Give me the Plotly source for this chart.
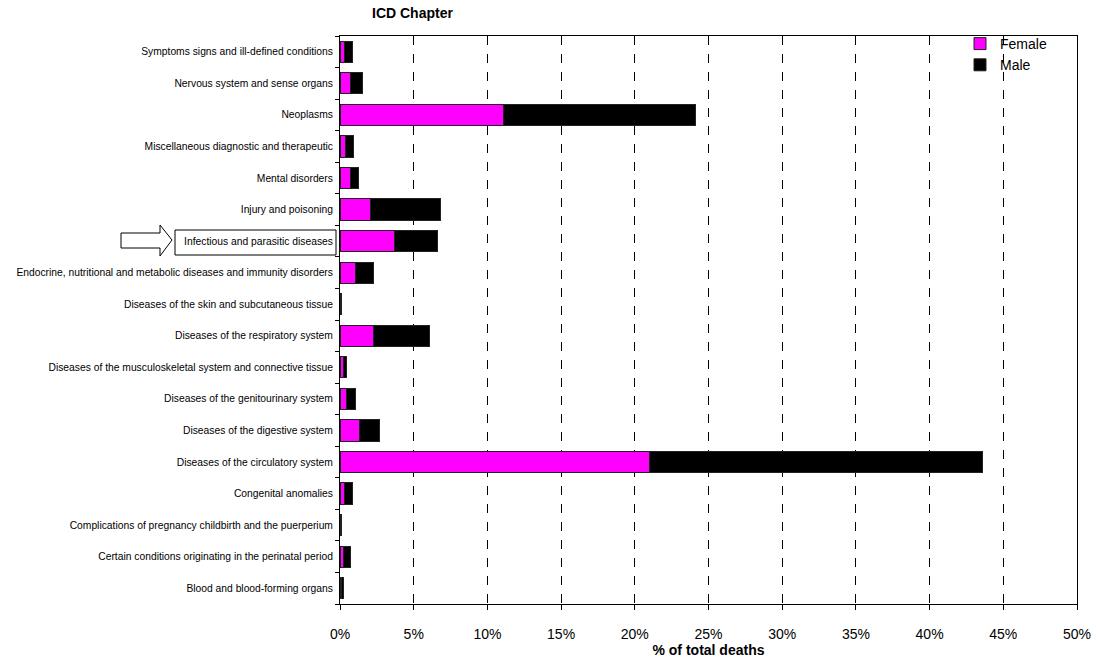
import plotly.graph_objects as go

# Categories listed bottom to top
categories = [
    "Blood and blood-forming organs",
    "Certain conditions originating in the perinatal period",
    "Complications of pregnancy childbirth and the puerperium",
    "Congenital anomalies",
    "Diseases of the circulatory system",
    "Diseases of the digestive system",
    "Diseases of the genitourinary system",
    "Diseases of the musculoskeletal system and connective tissue",
    "Diseases of the respiratory system",
    "Diseases of the skin and subcutaneous tissue",
    "Endocrine, nutritional and metabolic diseases and immunity disorders",
    "Infectious and parasitic diseases",
    "Injury and poisoning",
    "Mental disorders",
    "Miscellaneous diagnostic and therapeutic",
    "Neoplasms",
    "Nervous system and sense organs",
    "Symptoms signs and ill-defined conditions",
]
female = [0.07, 0.22, 0.04, 0.31, 21.03, 1.33, 0.43, 0.27, 2.30, 0.05,
          1.08, 3.71, 2.08, 0.70, 0.40, 11.06, 0.70, 0.31]
male = [0.20, 0.46, 0.03, 0.52, 22.57, 1.36, 0.63, 0.20, 3.80, 0.04,
        1.18, 2.89, 4.77, 0.54, 0.52, 13.07, 0.81, 0.52]
x_ticks = [0, 5, 10, 15, 20, 25, 30, 35, 40, 45, 50]
x_tick_labels = ["0%", "5%", "10%", "15%", "20%", "25%", "30%", "35%", "40%", "45%", "50%"]

W, H = 1096, 664
L, R, T, B = 340, 19, 36, 60
PW, PH = W - L - R, H - T - B


def px(x):
    return (x - L) / PW


def py(y):
    return (H - B - y) / PH


fig = go.Figure()
fig.add_trace(go.Bar(y=categories, x=female, name="Female", orientation="h",
                     marker=dict(color="#FF00FF", line=dict(color="#222222", width=1)),
                     width=0.67))
fig.add_trace(go.Bar(y=categories, x=male, name="Male", orientation="h",
                     marker=dict(color="#000000", line=dict(color="#222222", width=1)),
                     width=0.67))

# arrow pointing at the highlighted category
ax0, ax1, ax2 = 121, 160, 172
sy0, sy1 = 233, 248
hy0, hy1, ty = 225, 256, 240
path = (f"M {px(ax0)},{py(sy0)} L {px(ax1)},{py(sy0)} L {px(ax1)},{py(hy0)} "
        f"L {px(ax2)},{py(ty)} L {px(ax1)},{py(hy1)} L {px(ax1)},{py(sy1)} "
        f"L {px(ax0)},{py(sy1)} Z")
shapes = [
    dict(type="path", xref="paper", yref="paper", path=path,
         line=dict(color="#000000", width=1), fillcolor="white"),
    dict(type="rect", xref="paper", yref="paper",
         x0=px(175), x1=px(336), y0=py(230), y1=py(255),
         line=dict(color="#000000", width=1)),
]

fig.update_layout(
    width=W, height=H,
    margin=dict(l=L, r=R, t=T, b=B, autoexpand=False),
    barmode="stack",
    plot_bgcolor="white",
    paper_bgcolor="white",
    font=dict(family="Liberation Sans, Arial, sans-serif", color="#000000"),
    title=dict(text="<b>ICD Chapter</b>", xref="paper", x=px(372), xanchor="left",
               yref="container", y=1 - 13 / H, yanchor="middle", font=dict(size=14)),
    legend=dict(x=px(960), y=py(28), xanchor="left", yanchor="top",
                bgcolor="rgba(0,0,0,0)", font=dict(size=14),
                traceorder="normal", tracegroupgap=0, itemwidth=30),
    shapes=shapes,
    xaxis=dict(range=[0, 50], tickvals=x_ticks, ticktext=x_tick_labels,
               showgrid=True, gridcolor="#000000", gridwidth=1, griddash="dash",
               showline=True, linecolor="#000000", mirror=True, linewidth=1,
               ticks="outside", ticklen=5, tickcolor="#000000",
               tickfont=dict(size=14), zeroline=False, automargin=False,
               ticklabelstandoff=12,
               title=dict(text="<b>% of total deaths</b>", font=dict(size=14), standoff=4)),
    yaxis=dict(categoryorder="array", categoryarray=categories,
               showline=True, linecolor="#000000", mirror=True, linewidth=1,
               ticks="outside", ticklen=4, tickson="boundaries", tickcolor="#000000",
               tickfont=dict(size=10.3), showgrid=False, ticklabelstandoff=4,
               automargin=False),
)

fig.write_html("out.html")
